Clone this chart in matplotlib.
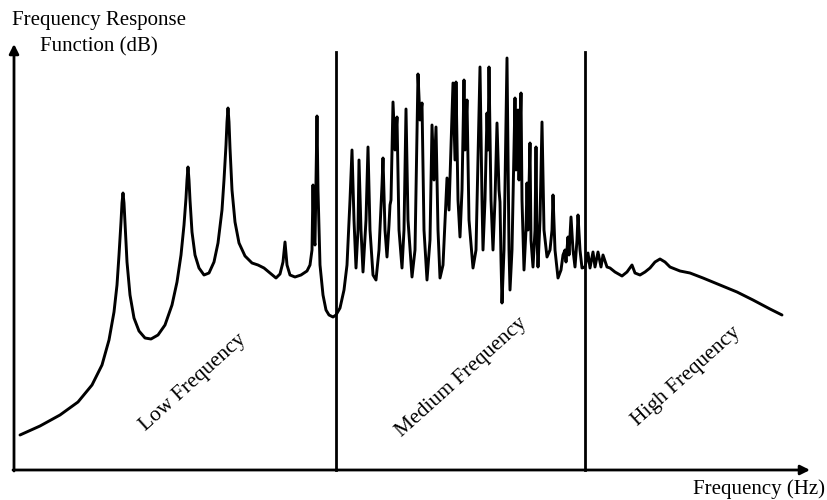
import matplotlib
matplotlib.use('Agg')
import matplotlib.pyplot as plt

# traced curve, frequency position vs level (picture units, level grows downward)
freq = [20, 40, 60, 78, 92, 102, 109, 114, 117, 119, 121, 122, 123, 124, 125, 127, 130, 134, 139, 145, 151, 158, 165, 172, 177,
        181, 184, 186, 187, 188, 189, 190, 192, 195, 199, 204, 209, 214, 218, 222, 224, 226, 227, 228, 229, 230, 232, 235, 239,
        245, 252, 258, 264, 270, 276, 280, 283, 285,
        287, 290, 295, 301, 307, 310, 312, 313, 314, 315, 316, 317, 318, 320, 323, 326, 329, 333,
        336, 340, 344, 347, 350, 352, 354, 356, 358, 359, 361, 363, 366, 368, 370, 373, 376, 379, 382, 383, 385, 387, 389, 390,
        391, 393, 395, 397, 399, 402, 404, 406, 408, 412, 415, 418, 420, 422, 424, 427, 430, 432, 434, 436, 438, 440, 443, 446,
        447, 449, 451, 453, 455, 456, 458, 460, 462, 464, 465, 467, 469, 473, 476, 480, 482, 483, 485, 487, 488, 489, 491, 493,
        495, 497, 499, 500, 501, 502, 504, 507, 509, 510, 512, 515, 516, 518, 519, 521, 522, 524, 526, 527, 528, 530, 531, 533,
        535, 536, 537, 538, 540, 542, 544, 547, 550, 552, 553, 555, 558, 561, 563, 565, 566, 568, 569, 571, 573, 575, 577, 578,
        580, 582, 585, 588, 590, 593, 595, 598, 601, 603, 607, 610, 615, 622, 627, 632, 635, 640, 645, 650, 655, 660, 665, 670,
        680, 690, 703, 720, 737, 753, 770, 782]
level = [435, 426, 415, 402, 385, 365, 340, 312, 285, 255, 222, 203, 193, 203, 222, 262, 295, 318, 331, 338, 339, 335, 325, 305, 282,
         255, 225, 198, 180, 167, 180, 200, 232, 255, 268, 275, 273, 262, 243, 210, 180, 145, 122, 108, 122, 148, 190, 222, 243,
         256, 263, 265, 268, 273, 278, 274, 262, 242,
         265, 275, 277, 275, 271, 265, 250, 185, 240, 245, 180, 116, 190, 265, 295, 310, 315, 317,
         315, 308, 290, 265, 200, 150, 220, 268, 230, 160, 230, 272, 220, 147, 230, 275, 280, 250, 185, 158, 230, 257, 225, 205,
         200, 102, 150, 117, 230, 268, 230, 109, 220, 277, 250, 74, 120, 103, 230, 280, 240, 125, 180, 127, 230, 278, 265, 200,
         178, 210, 147, 83, 160, 82, 200, 237, 190, 80, 150, 100, 220, 268, 250, 67, 200, 250, 200, 113, 150, 67, 200, 250,
         200, 123, 190, 202, 260, 303, 250, 58, 250, 290, 250, 98, 170, 110, 180, 93, 200, 270, 230, 183, 230, 143, 240, 267,
         230, 147, 240, 267, 220, 122, 230, 257, 250, 230, 195, 250, 278, 270, 255, 250, 262, 237, 255, 217, 250, 267, 240, 215,
         250, 268, 267, 253, 268, 252, 267, 252, 267, 255, 267, 268, 272, 276, 272, 265, 273, 275, 272, 268, 262, 259, 262, 267,
         271, 273, 278, 285, 292, 300, 309, 315]

band_edges = [336, 585]
band_names = ['Low Frequency', 'Medium Frequency', 'High Frequency']
band_label_pos = [(193, 383), (461, 377), (686, 376)]

fig = plt.figure(figsize=(8.27, 5.0), dpi=100)
ax = fig.add_axes([0, 0, 1, 1])
ax.set_xlim(0, 827)
ax.set_ylim(500, 0)
ax.axis('off')

serif = 'Liberation Serif'

ax.plot(freq, level, color='black', lw=2.1, solid_joinstyle='round', solid_capstyle='round')

# axes with arrows
ax.annotate('', xy=(14, 44), xytext=(14, 471),
            arrowprops=dict(arrowstyle='-|>', lw=2, color='black', mutation_scale=14, shrinkA=0, shrinkB=0))
ax.annotate('', xy=(810, 470), xytext=(13, 470),
            arrowprops=dict(arrowstyle='-|>', lw=2, color='black', mutation_scale=14, shrinkA=0, shrinkB=0))

for xe in band_edges:
    ax.plot([xe, xe], [52, 470], color='black', lw=2)

for name, (x, y) in zip(band_names, band_label_pos):
    ax.text(x, y, name, rotation=42, ha='center', va='center', fontsize=15.5, family=serif)

ax.text(12, 20, 'Frequency Response', ha='left', va='center', fontsize=15, family=serif)
ax.text(40, 47, 'Function (dB)', ha='left', va='center', fontsize=15, family=serif)
ax.text(825, 489, 'Frequency (Hz)', ha='right', va='center', fontsize=15, family=serif)

fig.savefig('out.png', dpi=100)
